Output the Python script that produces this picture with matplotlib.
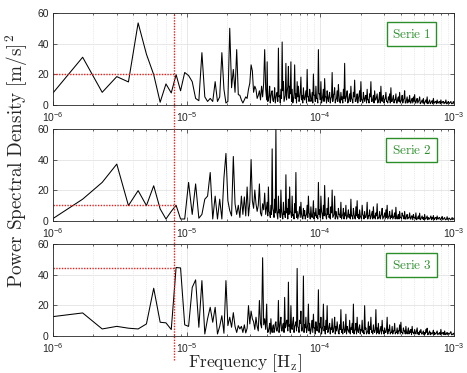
import numpy as np
import matplotlib
matplotlib.use("Agg")
import matplotlib.pyplot as plt
from matplotlib.lines import Line2D
from matplotlib.ticker import LogLocator, NullFormatter

plt.rcParams["mathtext.fontset"] = "custom"
plt.rcParams["mathtext.rm"] = "Liberation Sans"
plt.rcParams["mathtext.it"] = "Liberation Sans:italic"
plt.rcParams["font.family"] = "Liberation Sans"

# frequency grid: native periodogram bins at low f, thinned log grid above 4e-5 Hz
freq_low = 1e-6 + np.arange(59) * (2 / 3) * 1e-6
freq_high = np.geomspace(4e-5, 1e-3, 300)
freq = np.concatenate([freq_low, freq_high])

serie1_low = [7.6, 31, 8, 18.3, 14.8, 53.5, 33, 19.6, 1.5, 13.5,
              7.6, 19.6, 9, 21, 19, 15, 4, 2.5, 34, 5,
              2, 4, 2, 15, 2, 5, 34, 10, 1, 2,
              50, 11, 23, 8, 36, 6.5, 6, 3, 1, 3,
              5, 4, 10, 14, 26, 22, 8, 12, 10, 4,
              6, 9, 3, 12, 5, 14, 36, 10, 3]
serie1_high = [
    28, 2, 3, 6, 12, 1, 5, 8, 9, 3, 2, 5, 11, 1, 4, 7, 8, 2, 37, 5,
    6, 1, 10, 4, 41, 9, 15, 2, 4, 6, 27, 3, 8, 12, 25, 4, 12, 7, 28, 2,
    10, 1, 3, 7, 26, 4, 7, 1, 15, 5, 12, 2, 4, 8, 18, 3, 6, 1, 11, 4,
    3, 6, 9, 1, 23, 5, 5, 2, 10, 7, 2, 3, 8, 1, 20, 6, 6, 2, 12, 4,
    4, 1, 36, 7, 7, 3, 15, 1, 3, 6, 10, 2, 17, 5, 5, 1, 9, 4, 2, 6,
    8, 1, 4, 5, 21, 2, 6, 7, 11, 1, 3, 4, 9, 2, 13, 6, 2, 1, 8, 3,
    5, 1, 10, 4, 27, 2, 4, 6, 9, 1, 2, 5, 7, 2, 12, 4, 3, 1, 8, 5,
    16, 2, 2, 4, 7, 1, 4, 6, 9, 2, 15, 3, 3, 1, 8, 4, 2, 5, 6, 1,
    10, 3, 3, 1, 7, 5, 15, 2, 2, 4, 6, 1, 9, 3, 3, 5, 7, 1, 2, 4,
    8, 1, 12, 3, 2, 5, 6, 1, 3, 4, 8, 2, 2, 1, 5, 3, 7, 1, 11, 2,
    2, 4, 6, 1, 3, 3, 7, 1, 1, 4, 5, 2, 8, 1, 2, 3, 6, 1, 3, 4,
    9, 1, 1, 3, 5, 1, 3, 2, 6, 1, 1, 3, 4, 1, 5, 2, 6.5, 1, 1, 3,
    4, 1, 2, 3, 5, 0.5, 1, 2, 3, 1, 4, 0.5, 1, 2, 3, 1, 5, 0.5, 1, 2,
    3, 0.5, 1, 2, 2.5, 0.5, 4, 1, 1, 2, 2, 0.5, 3, 1, 1, 2, 2, 0.5, 3, 1,
    1, 2, 2, 0.5, 1.5, 1, 3, 0.5, 0.5, 1.5, 2, 0.5, 1, 1.5, 2, 0.5, 0.5, 1, 2, 0.5]

serie2_low = [1.3, 14, 25, 37, 9.8, 19.6, 9.8, 22.8, 7.6, 1,
              6, 10, 1, 1, 25, 4, 24, 1.5, 4, 14,
              16, 31.5, 1, 16, 1, 14, 1, 28, 44, 13,
              6.5, 3, 42, 11, 4, 10, 2, 16, 4, 15.5,
              3, 22, 3, 12, 40, 13, 8, 20, 11, 6,
              10, 24, 5, 3, 11, 7, 18, 4, 9]
serie2_high = [
    12, 3, 22, 6, 5, 2, 10, 4, 47, 8, 6, 2, 14, 5, 60, 7, 4, 1, 16, 5,
    7, 2, 20, 6, 3, 1, 12, 4, 6, 2, 30, 5, 8, 1, 14, 4, 22, 6, 5, 2,
    16, 3, 4, 1, 11, 5, 31.5, 2, 6, 1, 3, 5, 9, 2, 12, 4, 2, 1, 8, 3,
    6.5, 1, 3, 4, 10, 2, 16, 5, 4, 1, 9, 3, 2, 5, 13, 1, 5, 3, 8, 2,
    3, 1, 25, 4, 7, 2, 16, 6, 4, 1, 10, 3, 23, 5, 3, 1, 8, 4, 15, 2,
    4, 1, 9, 5, 20, 2, 3, 4, 16, 1, 6, 3, 2, 1, 8, 4, 4, 2, 12, 1,
    3, 4, 8, 1, 5, 3, 10, 1, 2, 4, 7, 2, 4, 1, 14, 3, 3, 1, 8, 4,
    2, 1, 9, 3, 13, 2, 4, 1, 7, 3, 2, 1, 10, 4, 3, 1, 6, 2, 2, 4,
    12, 1, 3, 3, 7, 1, 2, 4, 6, 1, 9, 2, 3, 1, 5, 3, 11, 1, 2, 2,
    6, 1, 3, 4, 8, 1, 2, 3, 5, 1, 7, 2, 10, 1, 2, 3, 6, 1, 3, 2,
    7, 1, 2, 3, 5, 1, 8.7, 2, 1, 3, 4, 1, 6, 2, 2, 1, 5, 3, 3, 1,
    6, 1, 1, 3, 4, 1, 2, 2, 5, 1, 1, 3, 3, 0.5, 4, 2, 2, 1, 5, 0.5,
    1, 2, 3, 1, 4.8, 0.5, 1, 2, 3, 1, 2, 0.5, 4, 1, 1, 2, 3, 0.5, 2, 1,
    1, 2, 3, 0.5, 2, 1, 3.3, 0.5, 1, 2, 2, 0.5, 3, 1, 1, 2, 2, 0.5, 1, 1.5,
    2.6, 0.5, 1, 1.5, 2, 0.5, 0.5, 1, 2.5, 0.5, 1, 1.5, 1.5, 0.5, 0.5, 1, 2, 0.5, 1, 1.5]

serie3_low = [12.4, 14.8, 4.3, 6, 4.8, 4.3, 7.6, 31, 8.7, 8.3,
              3.9, 44.6, 44.3, 7, 6, 31.5, 36.5, 5.4, 36, 1,
              11, 18.5, 8.7, 18.5, 1, 6, 13, 1.5, 36, 6.5,
              12, 5.4, 15, 6, 2, 6.5, 4.3, 6, 2, 7,
              1.7, 4.8, 19.6, 7.6, 16, 11, 9, 4, 12, 6,
              3, 23, 8, 5, 51, 7, 11, 4, 20.6]
serie3_high = [
    6, 2, 3, 5, 8, 1, 11, 4, 2, 6, 7, 2, 4, 8, 9, 3, 3, 6, 23, 2,
    5, 9, 12, 3, 3, 7, 8, 2, 25, 5, 6, 10, 10, 3, 35, 6, 7, 2, 19.6, 5,
    4, 9, 12, 2, 6, 7, 9, 3, 44, 6, 5, 2, 10, 8, 16, 3, 3, 6, 39, 2,
    7, 5, 12, 2, 4, 8, 20.6, 3, 8, 1, 3, 6, 10, 2, 14, 5, 5, 1, 9, 4,
    3, 7, 30, 2, 8, 5, 12, 1, 4, 6, 20.6, 3, 6, 1, 10, 4, 19.6, 2, 3, 6,
    8, 1, 5, 4, 11, 2, 3, 6, 12, 1, 6, 3, 9, 5, 2, 1, 7, 4, 17, 2,
    4, 1, 9, 5, 2, 3, 14, 1, 6, 4, 3, 2, 10, 1, 5, 4, 8, 2, 20.6, 1,
    3, 4, 8, 1, 12, 3, 2, 5, 7, 1, 4, 3, 10, 2, 3, 1, 19.6, 4, 5, 1,
    2, 3, 9, 1, 6, 4, 12, 2, 3, 1, 7, 3, 2, 4, 17, 1, 5, 2, 8, 1,
    2, 4, 6, 1, 10, 3, 3, 1, 5, 2, 2, 4, 12, 1, 4, 3, 7, 1, 2, 2,
    6, 1, 3, 3, 8, 1, 2, 2, 5, 1, 3, 3, 7, 1, 8.7, 2, 2, 1, 5, 3,
    3, 1, 6, 2, 1, 3, 5, 1, 3, 2, 4, 0.5, 6, 2, 2, 1, 4, 2, 1, 3,
    5, 1, 2, 0.5, 3, 2, 4, 1, 1, 2, 3, 0.5, 2, 1, 4, 2, 4.8, 0.5, 1, 2,
    3, 0.5, 2, 1, 1, 2, 3.5, 0.5, 2, 1, 1, 2, 3, 0.5, 1, 1.5, 2, 0.5, 4, 1,
    1, 2, 2, 0.5, 3, 1, 0.5, 1.5, 2, 0.5, 1.5, 1, 1, 2, 2.5, 0.5, 0.5, 1, 1.5, 0.5]

series = [serie1_low + serie1_high, serie2_low + serie2_high, serie3_low + serie3_high]
labels = ["Serie 1", "Serie 2", "Serie 3"]
f_mark = 8.1e-6
levels = [20, 10, 44]

fig = plt.figure(figsize=(4.67, 3.73), dpi=100)
left, width, height = 0.1135, 0.8587, 0.2453
bottoms = [0.7198, 0.4088, 0.1005]
green = "#2a8f2a"
red = "#e8231f"
axcol = "#262626"

for psd, lab, lvl, b in zip(series, labels, levels, bottoms):
    ax = fig.add_axes([left, b, width, height])
    ax.plot(freq, psd, color="black", lw=0.75)
    ax.plot([1e-6, f_mark], [lvl, lvl], color=red, lw=1.0, ls=(0, (1, 1)))
    ax.set_xscale("log")
    ax.set_xlim(1e-6, 1e-3)
    ax.set_ylim(0, 60)
    ax.set_yticks([0, 20, 40, 60])
    ax.xaxis.set_minor_locator(LogLocator(base=10, subs=np.arange(2, 10)))
    ax.xaxis.set_minor_formatter(NullFormatter())
    ax.tick_params(which="both", direction="in", top=True, right=True,
                   labelsize=7.5, colors=axcol, width=0.5)
    ax.tick_params(which="major", length=3, pad=3)
    ax.tick_params(which="minor", length=1.5)
    ax.tick_params(axis="x", pad=4)
    ax.grid(True, which="major", color="#e3e3e3", lw=0.6)
    ax.grid(True, which="minor", axis="x", color="#d8d8d8", lw=0.5, ls=":")
    ax.set_axisbelow(True)
    for s in ax.spines.values():
        s.set_color(axcol)
        s.set_linewidth(0.6)
    ax.text(0.894, 0.77, r"$\mathrm{%s}$" % lab.replace(" ", r"\ "), transform=ax.transAxes,
            ha="center", va="center", color=green, fontsize=9.5, math_fontfamily="cm",
            bbox=dict(boxstyle="square,pad=0.4", fc="white", ec=green, lw=1.0))

# vertical marker spanning all panels
xf = left + width * np.log10(f_mark / 1e-6) / 3
fig.add_artist(Line2D([xf, xf], [0.035, bottoms[0] + height], transform=fig.transFigure,
                      color=red, lw=1.0, ls=(0, (1, 1))))

fig.text(0.036, 0.568, r"$\mathrm{Power\ Spectral\ Density\ [m/s]^2}$", rotation=90,
         ha="center", va="center", fontsize=13.8, math_fontfamily="cm", color=axcol)
fig.text(0.525, 0.026, r"$\mathrm{Frequency\ [H_z]}$", ha="center", va="center",
         fontsize=12.5, math_fontfamily="cm", color=axcol)

fig.savefig("out.png", dpi=100)
